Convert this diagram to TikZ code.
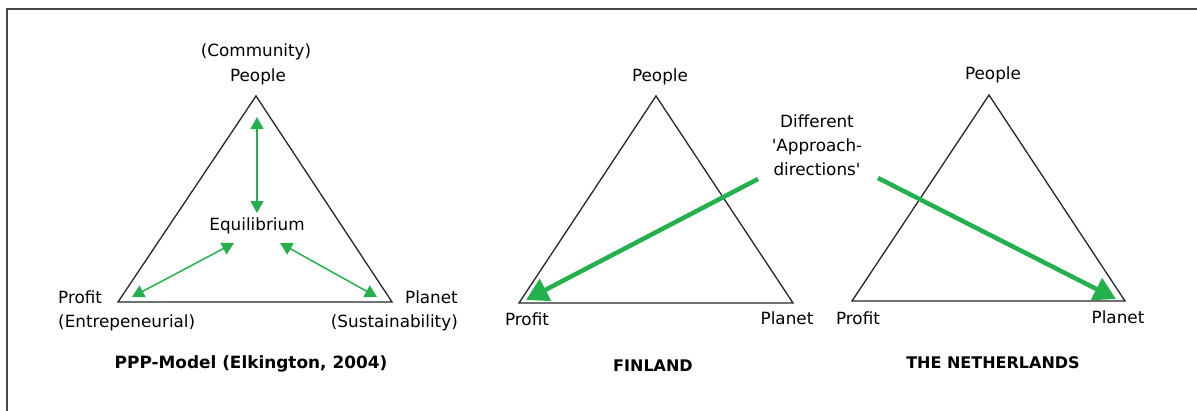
\documentclass[tikz,border=0pt]{standalone}
\usepackage{fontspec}
\setmainfont{DejaVu Sans}
\usetikzlibrary{arrows.meta}
\definecolor{pgreen}{RGB}{34,177,76}
\definecolor{frame}{RGB}{70,70,70}
\begin{document}
\begin{tikzpicture}[x=1pt,y=-1pt,
  lbl/.style={inner sep=0pt,font=\fontsize{16.8}{24}\selectfont},
  ttl/.style={inner sep=0pt,font=\fontsize{16}{20}\selectfont\bfseries},
  tri/.style={draw=black!85,line width=1.3pt,line join=miter},
  thin/.style={draw=pgreen,line width=1.5pt,{Triangle[length=12pt,width=13pt]}-{Triangle[length=12pt,width=13pt]},pgreen},
  thick/.style={draw=pgreen,line width=4.5pt,-{Triangle[length=22pt,width=24pt]},pgreen}]
\useasboundingbox (0,0) rectangle (1197,410);
\fill[white] (0,0) rectangle (1197,410);
\draw[frame,line width=1.6pt] (7,412) -- (7,9) -- (1199,9);
% Triangle 1
\coordinate (A1) at (256,96);
\coordinate (B1) at (118,302);
\coordinate (C1) at (392,302);
\draw[tri] (A1) -- (B1) -- (C1) -- cycle;
\node[lbl] (comm) at (256,52) {(Community)};
\node[lbl] (people1) at (258,77) {People};
\node[lbl] (equil) at (257,226) {Equilibrium};
\node[lbl,anchor=west,align=left] (profit1) at (58,311) {Profit\\(Entrepeneurial)};
\node[lbl,anchor=east,align=right] (planet1) at (458,311) {Planet\\(Sustainability)};
\node[ttl,font=\fontsize{16.9}{20}\selectfont\bfseries] (title1) at (251,364) {PPP-Model (Elkington, 2004)};
\coordinate (e1a) at (257,117);
\coordinate (e1b) at (257,213);
\coordinate (e2a) at (234,243);
\coordinate (e2b) at (132,297);
\coordinate (e3a) at (280,243);
\coordinate (e3b) at (377,297);
\draw[thin] (e1a) -- (e1b);
\draw[thin] (e2a) -- (e2b);
\draw[thin] (e3a) -- (e3b);
% Triangle 2
\coordinate (A2) at (656,96);
\coordinate (B2) at (519,303);
\coordinate (C2) at (793,303);
\draw[tri] (A2) -- (B2) -- (C2) -- cycle;
\node[lbl] (people2) at (660,77) {People};
\node[lbl] (profit2) at (527,319) {Profit};
\node[lbl] (planet2) at (787,318) {Planet};
\node[ttl] (fin) at (653,366) {FINLAND};
% Triangle 3
\coordinate (A3) at (989,95);
\coordinate (B3) at (852,301);
\coordinate (C3) at (1125,301);
\draw[tri] (A3) -- (B3) -- (C3) -- cycle;
\node[lbl] (people3) at (993,75) {People};
\node[lbl] (profit3) at (858,318) {Profit};
\node[lbl] (planet3) at (1118,317) {Planet};
\node[ttl] (nl) at (993,363) {THE NETHERLANDS};
% Approach directions
\node[lbl,align=center] (diff) at (817,145) {Different\\\textquotesingle Approach-\\directions\textquotesingle};
\coordinate (f1) at (758,179);
\coordinate (f2) at (526,300);
\coordinate (n1) at (878,178);
\coordinate (n2) at (1116,299);
\draw[thick] (f1) -- (f2);
\draw[thick] (n1) -- (n2);
\end{tikzpicture}
\end{document}
